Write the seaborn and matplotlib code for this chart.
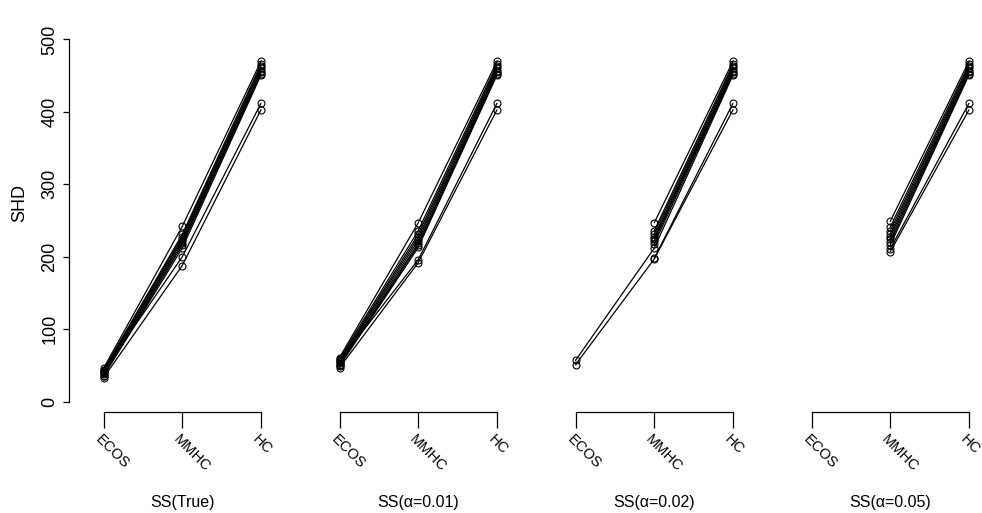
import numpy as np
import pandas as pd
import seaborn as sns
import matplotlib.pyplot as plt
from matplotlib.transforms import ScaledTranslation

# categories and panel titles
methods = ["ECOS", "MMHC", "HC"]
settings = ["SS(True)", "SS(\u03b1=0.01)", "SS(\u03b1=0.02)", "SS(\u03b1=0.05)"]
reps = list(range(1, 11))

# SHD per replicate (NaN = not available)
nan = np.nan
hc = [470, 466, 463, 460, 457, 455, 453, 451, 412, 403]

ecos_true = [46, 44, 43, 41, 40, 38, 36, 35, 42, 33]
mmhc_true = [242, 231, 228, 225, 222, 219, 216, 212, 200, 188]

ecos_001 = [61, 59, 57, 55, 53, 51, 50, 49, 56, 47]
mmhc_001 = [247, 236, 231, 227, 223, 219, 216, 213, 196, 192]

ecos_002 = [nan, nan, nan, nan, nan, nan, nan, 57, nan, 51]
mmhc_002 = [247, 236, 232, 228, 225, 222, 218, 212, 198, 197]

ecos_005 = [nan] * 10
mmhc_005 = [249, 241, 236, 232, 228, 224, 220, 216, 211, 207]

panels = [
    (ecos_true, mmhc_true, hc),
    (ecos_001, mmhc_001, hc),
    (ecos_002, mmhc_002, hc),
    (ecos_005, mmhc_005, hc),
]

sns.set_style("ticks")
plt.rcParams["font.family"] = ["Liberation Sans", "DejaVu Sans"]
for key in ["text.color", "axes.labelcolor", "xtick.color", "ytick.color", "axes.edgecolor"]:
    plt.rcParams[key] = "black"

W, H = 982, 513
fig = plt.figure(figsize=(W / 100, H / 100), dpi=100)

# layout in pixels (R base graphics look)
unit = 78.75          # px between categories
first_ecos = 103.5
step = 236.0
ax_left_pad = 35.0
ax_right_pad = 10.0
ax_bottom_px = 411.7
ax_top_px = 25.0
ylim = (-13.8, 520)

for i, (ecos, mmhc, hcv) in enumerate(panels):
    rows = []
    for r, e, m, h in zip(reps, ecos, mmhc, hcv):
        rows.append({"rep": r, "pos": 0, "shd": e})
        rows.append({"rep": r, "pos": 1, "shd": m})
        rows.append({"rep": r, "pos": 2, "shd": h})
    df = pd.DataFrame(rows)

    ecos_x = first_ecos + step * i
    left = ecos_x - ax_left_pad
    width = 2 * unit + ax_left_pad + ax_right_pad
    ax = fig.add_axes([left / W, 1 - ax_bottom_px / H, width / W,
                       (ax_bottom_px - ax_top_px) / H])

    sns.lineplot(data=df, x="pos", y="shd", units="rep", estimator=None,
                 color="black", lw=0.9, marker="o", markersize=5,
                 markerfacecolor="none", markeredgecolor="black",
                 markeredgewidth=0.8, legend=False, ax=ax)

    ax.set_xlim(-ax_left_pad / unit, 2 + ax_right_pad / unit)
    ax.set_ylim(*ylim)

    ax.spines["top"].set_visible(False)
    ax.spines["right"].set_visible(False)
    ax.spines["bottom"].set_bounds(0, 2)
    ax.spines["bottom"].set_linewidth(0.9)
    ax.set_xticks([0, 1, 2], methods, rotation=-45, ha="left", va="center",
                  rotation_mode="anchor", fontsize=10.5)
    ax.tick_params(axis="x", length=11.5, width=0.9, pad=6.5)
    shift = ScaledTranslation(-4.5 / 72, 0, fig.dpi_scale_trans)
    for lbl in ax.get_xticklabels():
        lbl.set_transform(lbl.get_transform() + shift)
    ax.set_xlabel("")

    if i == 0:
        ax.spines["left"].set_bounds(0, 500)
        ax.spines["left"].set_linewidth(0.9)
        ax.set_yticks([0, 100, 200, 300, 400, 500])
        ax.set_yticklabels(["0", "100", "200", "300", "400", "500"],
                           rotation=90, va="center", fontsize=13)
        ax.tick_params(axis="y", length=4.3, width=0.9, pad=3)
    else:
        ax.spines["left"].set_visible(False)
        ax.set_yticks([])
    ax.set_ylabel("")

    fig.text((ecos_x + unit) / W, 1 - 502 / H, settings[i],
             ha="center", va="center", fontsize=11.5)

fig.text(19.5 / W, 1 - 203 / H, "SHD", rotation=90,
         ha="center", va="center", fontsize=13)

fig.savefig("out.png", dpi=100)
